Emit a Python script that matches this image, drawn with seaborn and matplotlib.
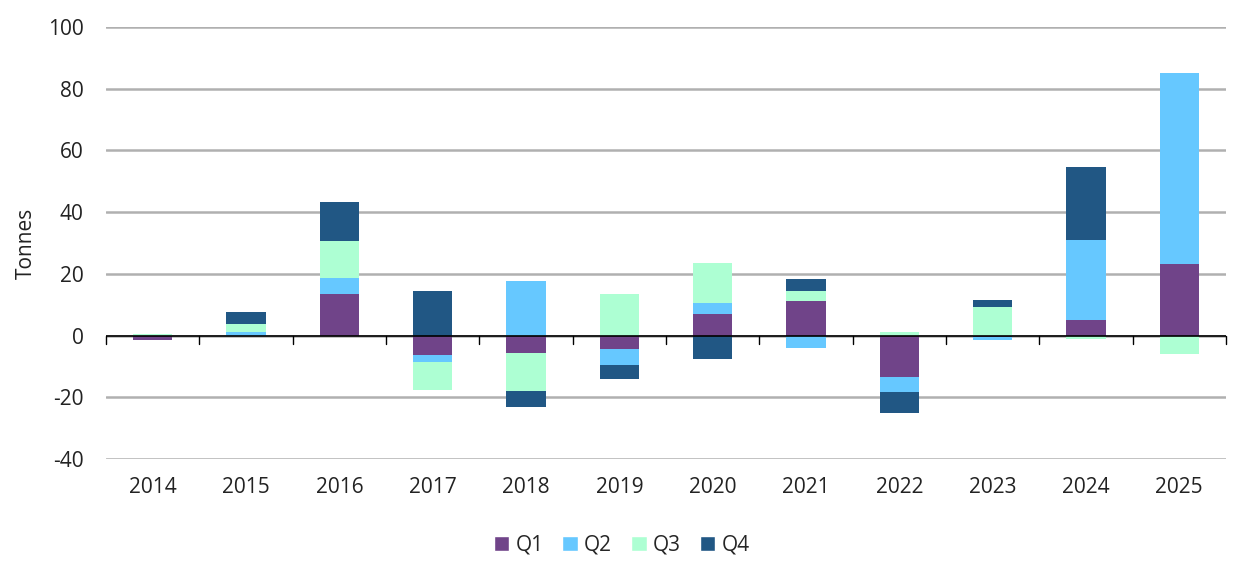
import matplotlib
matplotlib.use("Agg")
import matplotlib.pyplot as plt
import seaborn as sns
import pandas as pd
import numpy as np
from matplotlib.patches import Patch

years = ["2014", "2015", "2016", "2017", "2018", "2019", "2020", "2021", "2022", "2023", "2024", "2025"]
q1 = [-1.3, 0.0, 13.6, -6.3, -5.6, -4.3, 7.1, 11.1, -13.4, -0.5, 5.2, 23.1]
q2 = [0.0, 1.2, 5.0, -2.1, 17.6, -5.3, 3.6, -4.0, -4.8, -1.0, 25.6, 61.8]
q3 = [0.5, 2.5, 12.0, -9.1, -12.4, 13.6, 12.7, 3.4, 1.0, 9.2, -1.0, -6.1]
q4 = [0.0, 3.8, 12.8, 14.3, -5.0, -4.6, -7.6, 3.7, -6.9, 2.2, 23.7, 0.0]
quarters = ["Q1", "Q2", "Q3", "Q4"]
colors = ["#704489", "#66C8FF", "#ADFFD3", "#215784"]

sns.set_theme(style="white")
plt.rcParams["font.family"] = ["Open Sans", "DejaVu Sans"]
plt.rcParams["axes.unicode_minus"] = False

vals = np.array([q1, q2, q3, q4])
pos = np.cumsum(np.clip(vals, 0, None), axis=0)
neg = np.cumsum(np.clip(vals, None, 0), axis=0)

fig = plt.figure(figsize=(12.43, 5.71), dpi=100)
ax = fig.add_axes([0.0853, 0.196, 0.901, 0.757])

# draw cumulative stacks from the top layer down so lower layers cover
for i in reversed(range(4)):
    for cum in (pos[i], neg[i]):
        df = pd.DataFrame({"year": years, "val": cum})
        sns.barplot(data=df, x="year", y="val", color=colors[i], width=0.42,
                    saturation=1, ax=ax, linewidth=0, errorbar=None)

ax.set_ylim(-40, 100)
ax.set_xlim(-0.5, len(years) - 0.5)
ax.set_yticks(range(-40, 101, 20))
ax.yaxis.grid(True, color="#B0B0B0", linewidth=1.8)
ax.set_axisbelow(True)
for s in ax.spines.values():
    s.set_visible(False)
ax.axhline(0, color="black", linewidth=1.2, zorder=3)
for b in np.arange(-0.5, len(years), 1):
    ax.plot([b, b], [0, -2.6], color="black", linewidth=1.0, zorder=3, clip_on=False)

ax.tick_params(axis="both", length=0, labelsize=15, colors="#222222")
ax.tick_params(axis="x", pad=13)
ax.tick_params(axis="y", pad=16)
ax.set_xlabel("")
ax.set_ylabel("Tonnes", fontsize=15, color="#222222", labelpad=8)

handles = [Patch(facecolor=c, label=q) for c, q in zip(colors, quarters)]
fig.legend(handles=handles, loc="center", bbox_to_anchor=(0.5, 0.045), ncol=4,
           frameon=False, fontsize=15, handlelength=0.75, handleheight=0.75,
           handletextpad=0.3, columnspacing=0.9)

fig.savefig("out.png", dpi=100)
